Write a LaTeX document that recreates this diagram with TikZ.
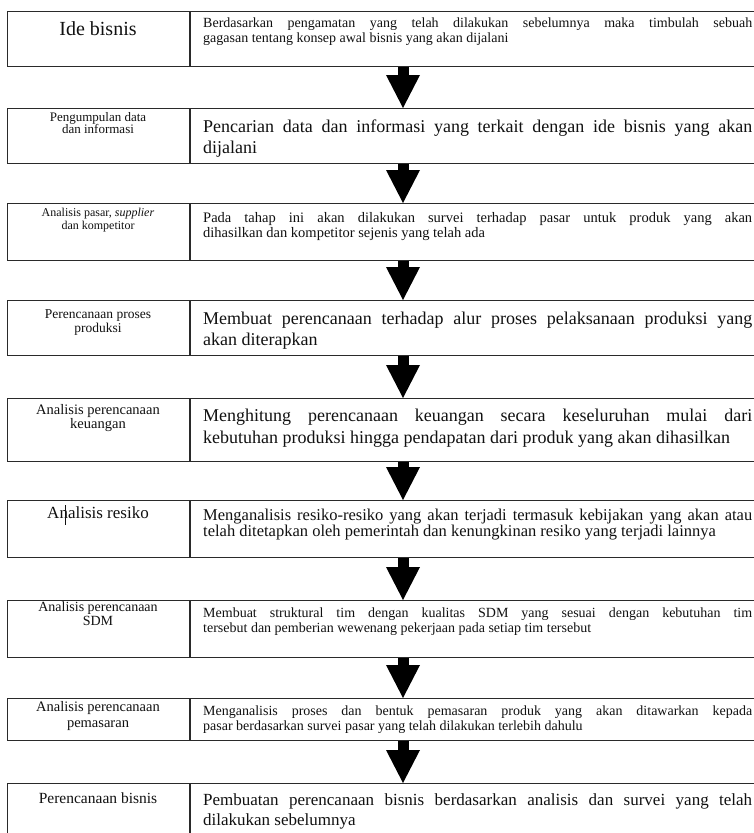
\documentclass[tikz,border=0pt]{standalone}
\usepackage{fontspec}
\setmainfont{Liberation Serif}
\usetikzlibrary{arrows.meta,calc}
\definecolor{linec}{HTML}{2A2A2A}
\definecolor{txt}{HTML}{111111}
\newcommand{\fl}[1]{\makebox[549pt][s]{#1}}
\begin{document}
\begin{tikzpicture}[x=1pt,y=-1pt,
  box/.style={draw=linec, line width=1.2pt, rectangle, anchor=north west, inner sep=0pt, minimum width=753pt},
  rt/.style={anchor=base west, inner sep=0pt, text=txt},
  lt/.style={anchor=base, inner sep=0pt, text=txt},
  fsS/.style={font=\fontsize{14}{16}\selectfont},
  fsL/.style={font=\fontsize{18}{20}\selectfont},
  fat/.style={draw=black, line width=11pt, -{Triangle[width=34pt,length=33pt,line width=0pt]}},
  divl/.style={draw=linec, line width=1.2pt},
]
\useasboundingbox (0,0) rectangle (754,833);
\fill[white] (0,0) rectangle (754,833);
\coordinate (ax) at (403,0);
% boxes
\node[box, minimum height=55pt] (b1) at (7,11) {};
\node[box, minimum height=55pt] (b2) at (7,108) {};
\node[box, minimum height=57pt] (b3) at (7,203) {};
\node[box, minimum height=55pt] (b4) at (7,300) {};
\node[box, minimum height=63pt] (b5) at (7,398) {};
\node[box, minimum height=57pt] (b6) at (7,500) {};
\node[box, minimum height=57pt] (b7) at (7,600) {};
\node[box, minimum height=42pt] (b8) at (7,698) {};
\node[box, minimum height=70pt] (b9) at (7,783) {};
% dividers
\foreach \b in {b1,b2,b3,b4,b5,b6,b7,b8,b9}
  \draw[divl] ($(\b.north west)+(183,0)$) -- ($(\b.south west)+(183,0)$);
% arrows
\draw[fat] (b1.south -| ax) -- (b2.north -| ax);
\draw[fat] (b2.south -| ax) -- (b3.north -| ax);
\draw[fat] (b3.south -| ax) -- (b4.north -| ax);
\draw[fat] (b4.south -| ax) -- (b5.north -| ax);
\draw[fat] (b5.south -| ax) -- (b6.north -| ax);
\draw[fat] (b6.south -| ax) -- (b7.north -| ax);
\draw[fat] (b7.south -| ax) -- (b8.north -| ax);
\draw[fat] (b8.south -| ax) -- (b9.north -| ax);
% left labels
\node[lt, font=\fontsize{20}{22}\selectfont] (l1) at (98,35) {Ide bisnis};
\node[lt, font=\fontsize{13}{13}\selectfont] (l2a) at (98,121) {Pengumpulan data};
\node[lt, font=\fontsize{13}{13}\selectfont] (l2b) at (98,133) {dan informasi};
\node[lt, font=\fontsize{12}{12}\selectfont] (l3a) at (98,216) {Analisis pasar, \textit{supplier}};
\node[lt, font=\fontsize{12}{12}\selectfont] (l3b) at (98,229) {dan kompetitor};
\node[lt, font=\fontsize{13.5}{14}\selectfont] (l4a) at (98,318) {Perencanaan proses};
\node[lt, font=\fontsize{13.5}{14}\selectfont] (l4b) at (98,332) {produksi};
\node[lt, font=\fontsize{14.5}{15}\selectfont] (l5a) at (98,414) {Analisis perencanaan};
\node[lt, font=\fontsize{14.5}{15}\selectfont] (l5b) at (98,428) {keuangan};
\node[lt, font=\fontsize{17}{18}\selectfont] (l6) at (98,518) {Analisis resiko};
\draw[draw=txt, line width=0.8pt] (65,505) -- (65,525);
\node[lt, font=\fontsize{14}{15}\selectfont] (l7a) at (98,611) {Analisis perencanaan};
\node[lt, font=\fontsize{14}{15}\selectfont] (l7b) at (98,625) {SDM};
\node[lt, font=\fontsize{14.5}{15}\selectfont] (l8a) at (98,711) {Analisis perencanaan};
\node[lt, font=\fontsize{14.5}{15}\selectfont] (l8b) at (98,727) {pemasaran};
\node[lt, font=\fontsize{15.5}{16}\selectfont] (l9) at (98,803) {Perencanaan bisnis};
% right texts
\node[rt, fsS] (r1a) at (203,27) {\fl{Berdasarkan pengamatan yang telah dilakukan sebelumnya maka timbulah sebuah}};
\node[rt, fsS] (r1b) at (203,42) {gagasan tentang konsep awal bisnis yang akan dijalani};
\node[rt, fsL] (r2a) at (203,132) {\fl{Pencarian data dan informasi yang terkait dengan ide bisnis yang akan}};
\node[rt, fsL] (r2b) at (203,153) {dijalani};
\node[rt, font=\fontsize{14.5}{16}\selectfont] (r3a) at (203,222) {\fl{Pada tahap ini akan dilakukan survei terhadap pasar untuk produk yang akan}};
\node[rt, font=\fontsize{14.5}{16}\selectfont] (r3b) at (203,237) {dihasilkan dan kompetitor sejenis yang telah ada};
\node[rt, fsL] (r4a) at (203,324) {\fl{Membuat perencanaan terhadap alur proses pelaksanaan produksi yang}};
\node[rt, fsL] (r4b) at (203,345) {akan diterapkan};
\node[rt, fsL] (r5a) at (203,421) {\fl{Menghitung perencanaan keuangan secara keseluruhan mulai dari}};
\node[rt, fsL] (r5b) at (203,443) {kebutuhan produksi hingga pendapatan dari produk yang akan dihasilkan};
\node[rt, font=\fontsize{16.5}{18}\selectfont] (r6a) at (203,520) {\fl{Menganalisis resiko-resiko yang akan terjadi termasuk kebijakan yang akan atau}};
\node[rt, font=\fontsize{16.5}{18}\selectfont] (r6b) at (203,536) {telah ditetapkan oleh pemerintah dan kenungkinan resiko yang terjadi lainnya};
\node[rt, fsS] (r7a) at (203,617) {\fl{Membuat struktural tim dengan kualitas SDM yang sesuai dengan kebutuhan tim}};
\node[rt, fsS] (r7b) at (203,632) {tersebut dan pemberian wewenang pekerjaan pada setiap tim tersebut};
\node[rt, fsS] (r8a) at (203,715) {\fl{Menganalisis proses dan bentuk pemasaran produk yang akan ditawarkan kepada}};
\node[rt, fsS] (r8b) at (203,730) {pasar berdasarkan survei pasar yang telah dilakukan terlebih dahulu};
\node[rt, font=\fontsize{17}{19}\selectfont] (r9a) at (203,805) {\fl{Pembuatan perencanaan bisnis berdasarkan analisis dan survei yang telah}};
\node[rt, font=\fontsize{17}{19}\selectfont] (r9b) at (203,825) {dilakukan sebelumnya};
\end{tikzpicture}
\end{document}
